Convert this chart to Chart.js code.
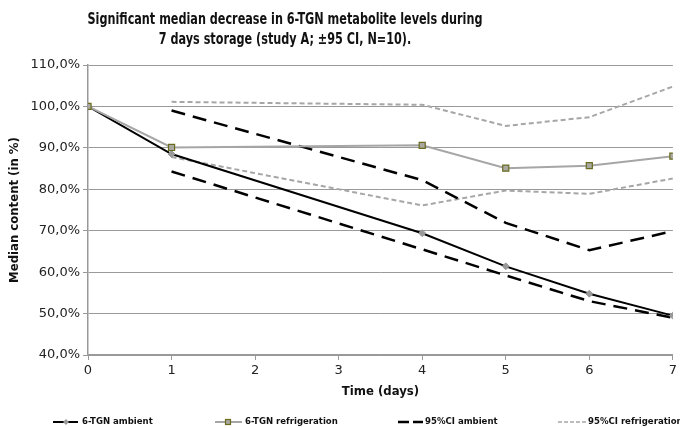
<!DOCTYPE html>
<html>
<head>
<meta charset="utf-8">
<script src="https://cdn.jsdelivr.net/npm/chart.js@4.4.1/dist/chart.umd.min.js"></script>
<style>
  html, body { margin: 0; padding: 0; background: #fff; }
</style>
</head>
<body>
<canvas id="chart" width="680" height="428"></canvas>
<script>
// values (median content in %)
const days = [0, 1, 4, 5, 6, 7];
const ambient = [100, 88.5, 69.4, 61.4, 54.8, 49.5];
const refrigeration = [100, 90.1, 90.6, 85.1, 85.7, 88.0];

const ciDays = [1, 4, 5, 6, 7];
const ciAmbientUpper = [99.0, 82.2, 71.9, 65.3, 69.9];
const ciAmbientLower = [84.3, 65.5, 59.2, 53.0, 49.0];
const ciRefUpper = [101.1, 100.4, 95.3, 97.4, 104.8];
const ciRefLower = [87.8, 76.1, 79.7, 78.9, 82.6];

const titleLines = [
  "Significant median decrease in 6-TGN metabolite levels during",
  "7 days storage (study A; \u00b195 CI, N=10).",
];
const legendLabels = ["6-TGN ambient", "6-TGN refrigeration", "95%CI ambient", "95%CI refrigeration"];

const narrow = "'Liberation Sans Narrow', 'DejaVu Sans Condensed', 'Open Sans', sans-serif";
const tickFont = "'DejaVu Sans', Verdana, sans-serif";

const pts = (xs, ys) => xs.map((x, i) => ({ x: x, y: ys[i] }));

// title drawn by hand so both lines centre where they do in the reference
// (squeezed a little sideways, the original font is narrower)
const titlePlugin = {
  id: "titleLines",
  afterDraw(chart) {
    const ctx = chart.ctx;
    ctx.save();
    ctx.fillStyle = "#111";
    ctx.font = "bold 16px " + narrow;
    ctx.textAlign = "center";
    ctx.textBaseline = "middle";
    const w = ctx.measureText(titleLines[0]).width;
    const k = Math.min(1, 395 / w);
    ctx.translate(285, 0);
    ctx.scale(k, 1);
    ctx.fillText(titleLines[0], 0, 20);
    ctx.fillText(titleLines[1], 0, 40);
    ctx.restore();
  },
};

// legend row at the bottom
const legendPlugin = {
  id: "bottomLegend",
  afterDraw(chart) {
    const ctx = chart.ctx;
    const y = 422;
    ctx.save();

    // 6-TGN ambient
    ctx.strokeStyle = "#000";
    ctx.lineWidth = 2;
    ctx.beginPath(); ctx.moveTo(53, y); ctx.lineTo(78, y); ctx.stroke();
    ctx.fillStyle = "#999";
    ctx.beginPath(); ctx.moveTo(66, y - 3); ctx.lineTo(69, y); ctx.lineTo(66, y + 3); ctx.lineTo(63, y); ctx.closePath(); ctx.fill();

    // 6-TGN refrigeration
    ctx.strokeStyle = "#a6a6a6";
    ctx.beginPath(); ctx.moveTo(215, y); ctx.lineTo(242, y); ctx.stroke();
    ctx.fillStyle = "#a8a8a0";
    ctx.fillRect(225.5, y - 2.5, 5, 5);
    ctx.strokeStyle = "#6b6b1f";
    ctx.lineWidth = 1.2;
    ctx.strokeRect(225.5, y - 2.5, 5, 5);

    // 95%CI ambient
    ctx.strokeStyle = "#000";
    ctx.lineWidth = 2.5;
    ctx.beginPath(); ctx.moveTo(398, y); ctx.lineTo(409, y); ctx.moveTo(413, y); ctx.lineTo(423, y); ctx.stroke();

    // 95%CI refrigeration
    ctx.strokeStyle = "#a6a6a6";
    ctx.lineWidth = 1.5;
    ctx.setLineDash([4, 2]);
    ctx.beginPath(); ctx.moveTo(558, y); ctx.lineTo(587, y); ctx.stroke();
    ctx.setLineDash([]);

    ctx.fillStyle = "#111";
    ctx.font = "bold 9.5px " + narrow;
    ctx.textBaseline = "middle";
    ctx.fillText(legendLabels[0], 82, y);
    ctx.fillText(legendLabels[1], 245, y);
    ctx.fillText(legendLabels[2], 425, y);
    ctx.fillText(legendLabels[3], 588, y);
    ctx.restore();
  },
};

new Chart(document.getElementById("chart"), {
  type: "line",
  data: {
    datasets: [
      {
        label: legendLabels[1],
        data: pts(days, refrigeration),
        borderColor: "#a6a6a6",
        borderWidth: 2,
        pointStyle: "rect",
        pointRadius: 4.3,
        pointBackgroundColor: "#a8a8a0",
        pointBorderColor: "#6b6b1f",
        pointBorderWidth: 1.2,
      },
      {
        label: legendLabels[0],
        data: pts(days, ambient),
        borderColor: "#000",
        borderWidth: 2,
        pointStyle: "rectRot",
        pointRadius: 3.5,
        pointBackgroundColor: "#999",
        pointBorderColor: "#999",
        pointBorderWidth: 1,
      },
      {
        label: legendLabels[2],
        data: pts(ciDays, ciAmbientUpper),
        borderColor: "#000",
        borderWidth: 2.5,
        borderDash: [14, 8],
        pointRadius: 0,
      },
      {
        label: legendLabels[2],
        data: pts(ciDays, ciAmbientLower),
        borderColor: "#000",
        borderWidth: 2.5,
        borderDash: [14, 8],
        pointRadius: 0,
      },
      {
        label: legendLabels[3],
        data: pts(ciDays, ciRefUpper),
        borderColor: "#a6a6a6",
        borderWidth: 2,
        borderDash: [5, 3],
        pointRadius: 0,
      },
      {
        label: legendLabels[3],
        data: pts(ciDays, ciRefLower),
        borderColor: "#a6a6a6",
        borderWidth: 2,
        borderDash: [5, 3],
        pointRadius: 0,
      },
    ],
  },
  options: {
    responsive: false,
    animation: false,
    devicePixelRatio: 1,
    elements: { line: { tension: 0 } },
    layout: { padding: { top: 65, right: 7, bottom: 28, left: 0 } },
    plugins: {
      legend: { display: false },
      title: { display: false },
      tooltip: { enabled: false },
    },
    scales: {
      x: {
        type: "linear",
        min: 0,
        max: 7,
        afterFit: (axis) => { axis.height = 45; },
        ticks: { stepSize: 1, padding: 3, color: "#222", font: { family: tickFont, size: 13 } },
        grid: { drawOnChartArea: false, drawTicks: true, tickLength: 5, color: "#999" },
        border: { color: "#999", width: 1.5 },
        title: {
          display: true,
          text: "Time (days)",
          color: "#111",
          font: { family: narrow, size: 13, weight: "bold" },
          padding: { top: 0, bottom: 1 },
        },
      },
      y: {
        min: 40,
        max: 110,
        afterFit: (axis) => { axis.width = 88; },
        ticks: {
          stepSize: 10,
          padding: 3,
          color: "#222",
          font: { family: tickFont, size: 13 },
          callback: (v) => v.toFixed(1).replace(".", ",") + "%",
        },
        grid: { color: "#999", lineWidth: 1, tickLength: 5 },
        border: { color: "#999", width: 1.5 },
        title: {
          display: true,
          text: "Median content (in %)",
          color: "#111",
          font: { family: narrow, size: 13, weight: "bold" },
          padding: { top: 7, bottom: 0 },
        },
      },
    },
  },
  plugins: [titlePlugin, legendPlugin],
});
</script>
</body>
</html>
